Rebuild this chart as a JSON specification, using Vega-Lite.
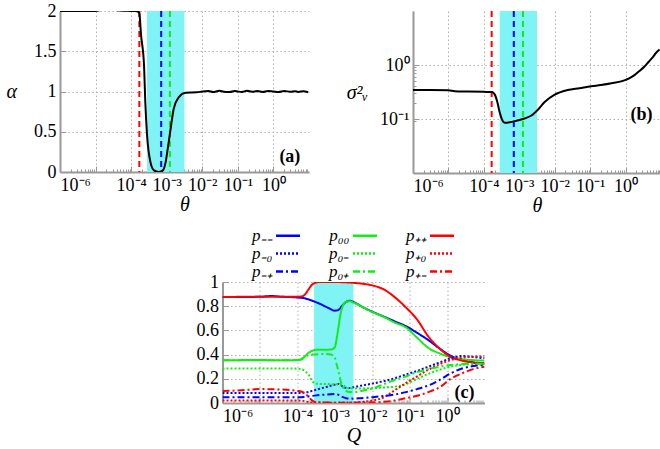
{
  "$schema": "https://vega.github.io/schema/vega-lite/v6.json",
  "padding": {"left": 6, "top": 2, "right": 2, "bottom": 0},
  "config": {
    "font": "Liberation Serif",
    "view": {"stroke": null},
    "axis": {
      "labelFont": "Liberation Serif",
      "labelFontSize": 18,
      "labelColor": "#000",
      "titleFont": "Liberation Serif",
      "titleFontSize": 20,
      "titleFontStyle": "italic",
      "titleFontWeight": "normal",
      "titleColor": "#000",
      "domainColor": "#999999",
      "domainWidth": 2,
      "gridColor": "#b0b0b0",
      "gridDash": [1.5, 2.5],
      "gridWidth": 1,
      "tickColor": "#999999",
      "tickSize": -6,
      "tickWidth": 1,
      "labelPadding": 10
    }
  },
  "resolve": {"scale": {"color": "independent", "strokeDash": "independent"}, "legend": {"color": "independent", "strokeDash": "independent"}},
  "center": true,
  "spacing": 12,
  "vconcat": [
    {
      "spacing": 37,
      "hconcat": [
        {
          "width": 249,
          "height": 161,
          "resolve": {"axis": {"x": "independent", "y": "independent"}},
          "layer": [
            {
              "data": {"values": [{"lo": 0.00028, "hi": 0.00316}]},
              "mark": {"type": "rect", "color": "#80f4f4"},
              "encoding": {
                "x": {"field": "lo", "type": "quantitative", "scale": {"type": "log", "domain": [1e-6, 10]},
                  "axis": {"orient": "bottom", "title": null, "labels": false, "grid": false, "domain": false, "tickSize": -3,
                    "values": [2e-6,3e-6,4e-6,5e-6,6e-6,7e-6,8e-6,9e-6,2e-5,3e-5,4e-5,5e-5,6e-5,7e-5,8e-5,9e-5,2e-4,3e-4,4e-4,5e-4,6e-4,7e-4,8e-4,9e-4,2e-3,3e-3,4e-3,5e-3,6e-3,7e-3,8e-3,9e-3,0.02,0.03,0.04,0.05,0.06,0.07,0.08,0.09,0.2,0.3,0.4,0.5,0.6,0.7,0.8,0.9,2,3,4,5,6,7,8,9]}},
                "x2": {"field": "hi"}
              }
            },
            {
              "data": {"values": [{"theta": 0.00017}]},
              "mark": {"type": "rule", "color": "#ff0000", "strokeDash": [6, 4], "strokeWidth": 2},
              "encoding": {"x": {"field": "theta", "type": "quantitative", "axis": null}}
            },
            {
              "data": {"values": [{"theta": 0.0007}]},
              "mark": {"type": "rule", "color": "#0000ff", "strokeDash": [6, 4], "strokeWidth": 2},
              "encoding": {"x": {"field": "theta", "type": "quantitative", "axis": null}}
            },
            {
              "data": {"values": [{"theta": 0.00123}]},
              "mark": {"type": "rule", "color": "#11ee11", "strokeDash": [6, 4], "strokeWidth": 2},
              "encoding": {"x": {"field": "theta", "type": "quantitative", "axis": null}}
            },
            {
              "data": {"values": [
                {"theta": 1e-6, "alpha": 2.0}, {"theta": 2e-6, "alpha": 2.0}, {"theta": 5e-6, "alpha": 2.0},
                {"theta": 1e-5, "alpha": 2.0}, {"theta": 1.3e-5, "alpha": 2.01}, {"theta": 1.8e-5, "alpha": 2.02},
                {"theta": 2.5e-5, "alpha": 2.02}, {"theta": 3.5e-5, "alpha": 2.015}, {"theta": 5e-5, "alpha": 2.005},
                {"theta": 7e-5, "alpha": 2.003}, {"theta": 1e-4, "alpha": 2.0}, {"theta": 1.3e-4, "alpha": 2.0},
                {"theta": 1.6e-4, "alpha": 1.99}, {"theta": 1.7e-4, "alpha": 1.97}, {"theta": 1.9e-4, "alpha": 1.7},
                {"theta": 2.3e-4, "alpha": 1.33}, {"theta": 2.5e-4, "alpha": 0.87}, {"theta": 2.8e-4, "alpha": 0.46},
                {"theta": 3.5e-4, "alpha": 0.12}, {"theta": 4.4e-4, "alpha": 0.02}, {"theta": 6e-4, "alpha": 0.0},
                {"theta": 7.8e-4, "alpha": 0.02}, {"theta": 9.3e-4, "alpha": 0.12}, {"theta": 1.07e-3, "alpha": 0.29},
                {"theta": 1.29e-3, "alpha": 0.54}, {"theta": 1.58e-3, "alpha": 0.79}, {"theta": 2.2e-3, "alpha": 0.93},
                {"theta": 3.4e-3, "alpha": 0.985}, {"theta": 7e-3, "alpha": 0.99}, {"theta": 0.01, "alpha": 1.0},
                {"theta": 0.015, "alpha": 1.006}, {"theta": 0.02, "alpha": 0.994}, {"theta": 0.03, "alpha": 1.008},
                {"theta": 0.04, "alpha": 0.998}, {"theta": 0.06, "alpha": 0.993}, {"theta": 0.08, "alpha": 1.006},
                {"theta": 0.1, "alpha": 1.0}, {"theta": 0.13, "alpha": 0.995}, {"theta": 0.18, "alpha": 1.008},
                {"theta": 0.25, "alpha": 0.997}, {"theta": 0.35, "alpha": 1.005}, {"theta": 0.5, "alpha": 0.994},
                {"theta": 0.7, "alpha": 1.007}, {"theta": 1, "alpha": 1.0}, {"theta": 1.4, "alpha": 0.994},
                {"theta": 2, "alpha": 1.006}, {"theta": 3, "alpha": 0.997}, {"theta": 4, "alpha": 1.004},
                {"theta": 5, "alpha": 0.995}, {"theta": 7, "alpha": 1.003}, {"theta": 9.5, "alpha": 0.99}
              ]},
              "mark": {"type": "line", "color": "#000", "strokeWidth": 2, "interpolate": "monotone", "clip": true},
              "encoding": {
                "x": {"field": "theta", "type": "quantitative", "title": "θ",
                  "axis": {"orient": "bottom", "grid": true, "values": [1e-6, 1e-5, 1e-4, 1e-3, 1e-2, 0.1, 1], "titlePadding": 0,
                    "labelExpr": "datum.value < 3e-6 ? '10⁻⁶' : datum.value < 3e-5 ? '10⁻⁵' : datum.value < 3e-4 ? '10⁻⁴' : datum.value < 3e-3 ? '10⁻³' : datum.value < 3e-2 ? '10⁻²' : datum.value < 0.3 ? '10⁻¹' : '10⁰'"}},
                "y": {"field": "alpha", "type": "quantitative", "title": "α", "scale": {"domain": [0, 2]},
                  "axis": {"orient": "left", "grid": true, "values": [0, 0.5, 1, 1.5, 2], "labelExpr": "format(datum.value, '~g')",
                    "titleAngle": 0, "titleAlign": "right", "titleBaseline": "middle", "titlePadding": 17}}
              }
            },
            {
              "data": {"values": [{"theta": 2.9, "alpha": 0.19, "label": "(a)"}]},
              "mark": {"type": "text", "font": "Liberation Serif", "fontWeight": "bold", "fontSize": 18, "align": "center", "baseline": "middle"},
              "encoding": {
                "x": {"field": "theta", "type": "quantitative", "axis": null},
                "y": {"field": "alpha", "type": "quantitative", "axis": null},
                "text": {"field": "label"}
              }
            }
          ]
        },
        {
          "width": 248,
          "height": 162,
          "resolve": {"axis": {"x": "independent", "y": "independent"}},
          "layer": [
            {
              "data": {"values": [{"lo": 0.00028, "hi": 0.00316}]},
              "mark": {"type": "rect", "color": "#80f4f4"},
              "encoding": {
                "x": {"field": "lo", "type": "quantitative", "scale": {"type": "log", "domain": [1e-6, 10]},
                  "axis": {"orient": "bottom", "title": null, "labels": false, "grid": false, "domain": false, "tickSize": -3,
                    "values": [2e-6,3e-6,4e-6,5e-6,6e-6,7e-6,8e-6,9e-6,2e-5,3e-5,4e-5,5e-5,6e-5,7e-5,8e-5,9e-5,2e-4,3e-4,4e-4,5e-4,6e-4,7e-4,8e-4,9e-4,2e-3,3e-3,4e-3,5e-3,6e-3,7e-3,8e-3,9e-3,0.02,0.03,0.04,0.05,0.06,0.07,0.08,0.09,0.2,0.3,0.4,0.5,0.6,0.7,0.8,0.9,2,3,4,5,6,7,8,9]}},
                "x2": {"field": "hi"}
              }
            },
            {
              "data": {"values": [{"theta": 0.000166}]},
              "mark": {"type": "rule", "color": "#ff0000", "strokeDash": [6, 4], "strokeWidth": 2},
              "encoding": {"x": {"field": "theta", "type": "quantitative", "axis": null}}
            },
            {
              "data": {"values": [{"theta": 0.0007}]},
              "mark": {"type": "rule", "color": "#0000ff", "strokeDash": [6, 4], "strokeWidth": 2},
              "encoding": {"x": {"field": "theta", "type": "quantitative", "axis": null}}
            },
            {
              "data": {"values": [{"theta": 0.00127}]},
              "mark": {"type": "rule", "color": "#11ee11", "strokeDash": [6, 4], "strokeWidth": 2},
              "encoding": {"x": {"field": "theta", "type": "quantitative", "axis": null}}
            },
            {
              "data": {"values": [
                {"theta": 1e-6, "s2": 0.343}, {"theta": 3e-6, "s2": 0.343}, {"theta": 1e-5, "s2": 0.342},
                {"theta": 1.5e-5, "s2": 0.328}, {"theta": 3.6e-5, "s2": 0.323}, {"theta": 1e-4, "s2": 0.318},
                {"theta": 1.66e-4, "s2": 0.315}, {"theta": 2.04e-4, "s2": 0.283}, {"theta": 2.4e-4, "s2": 0.206},
                {"theta": 2.8e-4, "s2": 0.132}, {"theta": 3.3e-4, "s2": 0.096}, {"theta": 3.9e-4, "s2": 0.085},
                {"theta": 5.4e-4, "s2": 0.087}, {"theta": 8.3e-4, "s2": 0.093}, {"theta": 1.41e-3, "s2": 0.102},
                {"theta": 2.2e-3, "s2": 0.116}, {"theta": 3.4e-3, "s2": 0.15}, {"theta": 5.2e-3, "s2": 0.206},
                {"theta": 0.01, "s2": 0.283}, {"theta": 0.023, "s2": 0.343}, {"theta": 0.05, "s2": 0.372},
                {"theta": 0.107, "s2": 0.404}, {"theta": 0.2, "s2": 0.425}, {"theta": 0.4, "s2": 0.458},
                {"theta": 0.93, "s2": 0.52}, {"theta": 1.26, "s2": 0.565}, {"theta": 1.78, "s2": 0.65},
                {"theta": 2.5, "s2": 0.78}, {"theta": 3.47, "s2": 0.95}, {"theta": 4.5, "s2": 1.15},
                {"theta": 5.9, "s2": 1.4}, {"theta": 7.1, "s2": 1.65}, {"theta": 9.1, "s2": 1.93}
              ]},
              "mark": {"type": "line", "color": "#000", "strokeWidth": 2, "interpolate": "monotone", "clip": true},
              "encoding": {
                "x": {"field": "theta", "type": "quantitative", "title": "θ",
                  "axis": {"orient": "bottom", "grid": true, "values": [1e-6, 1e-5, 1e-4, 1e-3, 1e-2, 0.1, 1], "titlePadding": 0,
                    "labelExpr": "datum.value < 3e-6 ? '10⁻⁶' : datum.value < 3e-5 ? '10⁻⁵' : datum.value < 3e-4 ? '10⁻⁴' : datum.value < 3e-3 ? '10⁻³' : datum.value < 3e-2 ? '10⁻²' : datum.value < 0.3 ? '10⁻¹' : '10⁰'"}},
                "y": {"field": "s2", "type": "quantitative", "title": "σ²ᵥ", "scale": {"type": "log", "domain": [0.083, 1.95]},
                  "axis": {"orient": "left", "grid": true, "values": [0.1, 1], "titleAngle": 0, "titleAlign": "right", "titleBaseline": "middle", "titlePadding": 12,
                    "labelExpr": "datum.value < 0.5 ? '10⁻¹' : '10⁰'"}}
              }
            },
            {
              "data": {"values": [{"theta": 2.8, "s2": 0.117, "label": "(b)"}]},
              "mark": {"type": "text", "font": "Liberation Serif", "fontWeight": "bold", "fontSize": 18, "align": "center", "baseline": "middle"},
              "encoding": {
                "x": {"field": "theta", "type": "quantitative", "axis": null},
                "y": {"field": "s2", "type": "quantitative",
                  "axis": {"orient": "left", "title": null, "labels": false, "grid": false, "domain": false, "tickSize": -3,
                    "values": [0.09, 0.2, 0.3, 0.4, 0.5, 0.6, 0.7, 0.8, 0.9]}},
                "text": {"field": "label"}
              }
            }
          ]
        }
      ]
    },
    {
      "width": 262,
      "height": 121,
      "resolve": {"axis": {"x": "independent", "y": "independent"}},
      "layer": [
        {
          "data": {"values": [{"lo": 0.00028, "hi": 0.00316}]},
          "mark": {"type": "rect", "color": "#80f4f4"},
          "encoding": {
            "x": {"field": "lo", "type": "quantitative", "scale": {"type": "log", "domain": [1e-6, 10]},
              "axis": {"orient": "bottom", "title": null, "labels": false, "grid": false, "domain": false, "tickSize": -3,
                "values": [2e-6,3e-6,4e-6,5e-6,6e-6,7e-6,8e-6,9e-6,2e-5,3e-5,4e-5,5e-5,6e-5,7e-5,8e-5,9e-5,2e-4,3e-4,4e-4,5e-4,6e-4,7e-4,8e-4,9e-4,2e-3,3e-3,4e-3,5e-3,6e-3,7e-3,8e-3,9e-3,0.02,0.03,0.04,0.05,0.06,0.07,0.08,0.09,0.2,0.3,0.4,0.5,0.6,0.7,0.8,0.9,2,3,4,5,6,7,8,9]}},
            "x2": {"field": "hi"}
          }
        },
        {
          "data": {"values": [
            {"Q": 1e-6, "p": 0.876, "s": "p₋₋"}, {"Q": 3.16e-6, "p": 0.876, "s": "p₋₋"}, {"Q": 1e-5, "p": 0.878, "s": "p₋₋"},
            {"Q": 2e-5, "p": 0.884, "s": "p₋₋"}, {"Q": 3.98e-5, "p": 0.878, "s": "p₋₋"}, {"Q": 1e-4, "p": 0.872, "s": "p₋₋"},
            {"Q": 1.58e-4, "p": 0.865, "s": "p₋₋"}, {"Q": 2.51e-4, "p": 0.845, "s": "p₋₋"}, {"Q": 3.98e-4, "p": 0.82, "s": "p₋₋"},
            {"Q": 6.31e-4, "p": 0.79, "s": "p₋₋"}, {"Q": 1e-3, "p": 0.763, "s": "p₋₋"}, {"Q": 1.26e-3, "p": 0.77, "s": "p₋₋"},
            {"Q": 1.58e-3, "p": 0.805, "s": "p₋₋"}, {"Q": 2e-3, "p": 0.835, "s": "p₋₋"}, {"Q": 2.51e-3, "p": 0.845, "s": "p₋₋"},
            {"Q": 3.16e-3, "p": 0.835, "s": "p₋₋"}, {"Q": 5.01e-3, "p": 0.8, "s": "p₋₋"}, {"Q": 0.01, "p": 0.755, "s": "p₋₋"},
            {"Q": 0.02, "p": 0.715, "s": "p₋₋"}, {"Q": 0.0398, "p": 0.675, "s": "p₋₋"}, {"Q": 0.0794, "p": 0.635, "s": "p₋₋"},
            {"Q": 0.158, "p": 0.58, "s": "p₋₋"}, {"Q": 0.316, "p": 0.52, "s": "p₋₋"}, {"Q": 0.631, "p": 0.45, "s": "p₋₋"},
            {"Q": 1.26, "p": 0.39, "s": "p₋₋"}, {"Q": 2.51, "p": 0.355, "s": "p₋₋"}, {"Q": 5.01, "p": 0.335, "s": "p₋₋"},
            {"Q": 10, "p": 0.32, "s": "p₋₋"},

            {"Q": 1e-6, "p": 0.353, "s": "p₀₀"}, {"Q": 1e-5, "p": 0.355, "s": "p₀₀"}, {"Q": 3.16e-5, "p": 0.353, "s": "p₀₀"},
            {"Q": 1e-4, "p": 0.355, "s": "p₀₀"}, {"Q": 1.26e-4, "p": 0.36, "s": "p₀₀"}, {"Q": 1.58e-4, "p": 0.385, "s": "p₀₀"},
            {"Q": 2e-4, "p": 0.415, "s": "p₀₀"}, {"Q": 2.51e-4, "p": 0.432, "s": "p₀₀"}, {"Q": 3.16e-4, "p": 0.44, "s": "p₀₀"},
            {"Q": 5.01e-4, "p": 0.44, "s": "p₀₀"}, {"Q": 7.94e-4, "p": 0.442, "s": "p₀₀"}, {"Q": 1e-3, "p": 0.46, "s": "p₀₀"},
            {"Q": 1.12e-3, "p": 0.53, "s": "p₀₀"}, {"Q": 1.26e-3, "p": 0.63, "s": "p₀₀"}, {"Q": 1.41e-3, "p": 0.73, "s": "p₀₀"},
            {"Q": 1.58e-3, "p": 0.79, "s": "p₀₀"}, {"Q": 2e-3, "p": 0.835, "s": "p₀₀"}, {"Q": 2.51e-3, "p": 0.842, "s": "p₀₀"},
            {"Q": 3.16e-3, "p": 0.83, "s": "p₀₀"}, {"Q": 5.01e-3, "p": 0.8, "s": "p₀₀"}, {"Q": 0.01, "p": 0.752, "s": "p₀₀"},
            {"Q": 0.02, "p": 0.713, "s": "p₀₀"}, {"Q": 0.0398, "p": 0.665, "s": "p₀₀"}, {"Q": 0.0794, "p": 0.625, "s": "p₀₀"},
            {"Q": 0.158, "p": 0.54, "s": "p₀₀"}, {"Q": 0.316, "p": 0.455, "s": "p₀₀"}, {"Q": 0.631, "p": 0.41, "s": "p₀₀"},
            {"Q": 1.26, "p": 0.378, "s": "p₀₀"}, {"Q": 2.51, "p": 0.362, "s": "p₀₀"}, {"Q": 5.01, "p": 0.354, "s": "p₀₀"},
            {"Q": 10, "p": 0.35, "s": "p₀₀"},

            {"Q": 1e-6, "p": 0.876, "s": "p₊₊"}, {"Q": 1e-5, "p": 0.878, "s": "p₊₊"}, {"Q": 1e-4, "p": 0.878, "s": "p₊₊"},
            {"Q": 1.26e-4, "p": 0.88, "s": "p₊₊"}, {"Q": 1.58e-4, "p": 0.895, "s": "p₊₊"}, {"Q": 2e-4, "p": 0.94, "s": "p₊₊"},
            {"Q": 2.51e-4, "p": 0.98, "s": "p₊₊"}, {"Q": 3.16e-4, "p": 0.995, "s": "p₊₊"}, {"Q": 3.98e-4, "p": 1.0, "s": "p₊₊"},
            {"Q": 1e-3, "p": 1.0, "s": "p₊₊"}, {"Q": 2e-3, "p": 0.997, "s": "p₊₊"}, {"Q": 3.16e-3, "p": 0.993, "s": "p₊₊"},
            {"Q": 5.01e-3, "p": 0.987, "s": "p₊₊"}, {"Q": 0.01, "p": 0.972, "s": "p₊₊"}, {"Q": 0.02, "p": 0.94, "s": "p₊₊"},
            {"Q": 0.0398, "p": 0.875, "s": "p₊₊"}, {"Q": 0.0794, "p": 0.79, "s": "p₊₊"}, {"Q": 0.158, "p": 0.69, "s": "p₊₊"},
            {"Q": 0.316, "p": 0.55, "s": "p₊₊"}, {"Q": 0.631, "p": 0.45, "s": "p₊₊"}, {"Q": 1.26, "p": 0.38, "s": "p₊₊"},
            {"Q": 2.51, "p": 0.35, "s": "p₊₊"}, {"Q": 5.01, "p": 0.335, "s": "p₊₊"}, {"Q": 10, "p": 0.33, "s": "p₊₊"},

            {"Q": 1e-6, "p": 0.083, "s": "p₋₀"}, {"Q": 1e-5, "p": 0.083, "s": "p₋₀"}, {"Q": 1e-4, "p": 0.083, "s": "p₋₀"},
            {"Q": 1.58e-4, "p": 0.086, "s": "p₋₀"}, {"Q": 2.51e-4, "p": 0.1, "s": "p₋₀"}, {"Q": 3.98e-4, "p": 0.118, "s": "p₋₀"},
            {"Q": 6.31e-4, "p": 0.135, "s": "p₋₀"}, {"Q": 1e-3, "p": 0.152, "s": "p₋₀"}, {"Q": 1.26e-3, "p": 0.158, "s": "p₋₀"},
            {"Q": 1.58e-3, "p": 0.14, "s": "p₋₀"}, {"Q": 2e-3, "p": 0.125, "s": "p₋₀"}, {"Q": 2.51e-3, "p": 0.124, "s": "p₋₀"},
            {"Q": 3.16e-3, "p": 0.13, "s": "p₋₀"}, {"Q": 5.01e-3, "p": 0.143, "s": "p₋₀"}, {"Q": 0.01, "p": 0.16, "s": "p₋₀"},
            {"Q": 0.02, "p": 0.18, "s": "p₋₀"}, {"Q": 0.0398, "p": 0.205, "s": "p₋₀"}, {"Q": 0.0794, "p": 0.235, "s": "p₋₀"},
            {"Q": 0.158, "p": 0.265, "s": "p₋₀"}, {"Q": 0.316, "p": 0.3, "s": "p₋₀"}, {"Q": 0.631, "p": 0.335, "s": "p₋₀"},
            {"Q": 1.26, "p": 0.37, "s": "p₋₀"}, {"Q": 2.51, "p": 0.388, "s": "p₋₀"}, {"Q": 5.01, "p": 0.38, "s": "p₋₀"},
            {"Q": 10, "p": 0.37, "s": "p₋₀"},

            {"Q": 1e-6, "p": 0.284, "s": "p₀₋"}, {"Q": 1e-5, "p": 0.285, "s": "p₀₋"}, {"Q": 1e-4, "p": 0.284, "s": "p₀₋"},
            {"Q": 1.26e-4, "p": 0.28, "s": "p₀₋"}, {"Q": 1.58e-4, "p": 0.265, "s": "p₀₋"}, {"Q": 2e-4, "p": 0.234, "s": "p₀₋"},
            {"Q": 2.51e-4, "p": 0.18, "s": "p₀₋"}, {"Q": 3.16e-4, "p": 0.16, "s": "p₀₋"}, {"Q": 5.01e-4, "p": 0.157, "s": "p₀₋"},
            {"Q": 1e-3, "p": 0.155, "s": "p₀₋"}, {"Q": 1.58e-3, "p": 0.15, "s": "p₀₋"}, {"Q": 2e-3, "p": 0.13, "s": "p₀₋"},
            {"Q": 2.51e-3, "p": 0.122, "s": "p₀₋"}, {"Q": 5.01e-3, "p": 0.12, "s": "p₀₋"}, {"Q": 0.01, "p": 0.122, "s": "p₀₋"},
            {"Q": 0.02, "p": 0.128, "s": "p₀₋"}, {"Q": 0.0398, "p": 0.135, "s": "p₀₋"}, {"Q": 0.0794, "p": 0.155, "s": "p₀₋"},
            {"Q": 0.158, "p": 0.2, "s": "p₀₋"}, {"Q": 0.316, "p": 0.24, "s": "p₀₋"}, {"Q": 0.631, "p": 0.275, "s": "p₀₋"},
            {"Q": 1.26, "p": 0.3, "s": "p₀₋"}, {"Q": 2.51, "p": 0.315, "s": "p₀₋"}, {"Q": 5.01, "p": 0.32, "s": "p₀₋"},
            {"Q": 10, "p": 0.32, "s": "p₀₋"},

            {"Q": 1e-6, "p": 0.02, "s": "p₊₀"}, {"Q": 1e-4, "p": 0.02, "s": "p₊₀"}, {"Q": 1.58e-4, "p": 0.015, "s": "p₊₀"},
            {"Q": 2e-4, "p": 0.008, "s": "p₊₀"}, {"Q": 2.51e-4, "p": 0.004, "s": "p₊₀"}, {"Q": 1e-3, "p": 0.003, "s": "p₊₀"},
            {"Q": 3.16e-3, "p": 0.005, "s": "p₊₀"}, {"Q": 5.01e-3, "p": 0.008, "s": "p₊₀"}, {"Q": 0.01, "p": 0.02, "s": "p₊₀"},
            {"Q": 0.02, "p": 0.045, "s": "p₊₀"}, {"Q": 0.0398, "p": 0.105, "s": "p₊₀"}, {"Q": 0.0794, "p": 0.165, "s": "p₊₀"},
            {"Q": 0.158, "p": 0.22, "s": "p₊₀"}, {"Q": 0.316, "p": 0.275, "s": "p₊₀"}, {"Q": 0.631, "p": 0.32, "s": "p₊₀"},
            {"Q": 1.26, "p": 0.355, "s": "p₊₀"}, {"Q": 2.51, "p": 0.375, "s": "p₊₀"}, {"Q": 5.01, "p": 0.383, "s": "p₊₀"},
            {"Q": 10, "p": 0.385, "s": "p₊₀"},

            {"Q": 1e-6, "p": 0.047, "s": "p₋₊"}, {"Q": 1e-5, "p": 0.047, "s": "p₋₊"}, {"Q": 1e-4, "p": 0.047, "s": "p₋₊"},
            {"Q": 1.58e-4, "p": 0.05, "s": "p₋₊"}, {"Q": 3.16e-4, "p": 0.063, "s": "p₋₊"}, {"Q": 5.01e-4, "p": 0.068, "s": "p₋₊"},
            {"Q": 1e-3, "p": 0.074, "s": "p₋₊"}, {"Q": 1.26e-3, "p": 0.068, "s": "p₋₊"}, {"Q": 1.58e-3, "p": 0.05, "s": "p₋₊"},
            {"Q": 2e-3, "p": 0.04, "s": "p₋₊"}, {"Q": 3.16e-3, "p": 0.036, "s": "p₋₊"}, {"Q": 5.01e-3, "p": 0.04, "s": "p₋₊"},
            {"Q": 0.01, "p": 0.048, "s": "p₋₊"}, {"Q": 0.02, "p": 0.058, "s": "p₋₊"}, {"Q": 0.0398, "p": 0.07, "s": "p₋₊"},
            {"Q": 0.0794, "p": 0.09, "s": "p₋₊"}, {"Q": 0.158, "p": 0.115, "s": "p₋₊"}, {"Q": 0.316, "p": 0.145, "s": "p₋₊"},
            {"Q": 0.631, "p": 0.19, "s": "p₋₊"}, {"Q": 1.26, "p": 0.245, "s": "p₋₊"}, {"Q": 2.51, "p": 0.285, "s": "p₋₊"},
            {"Q": 5.01, "p": 0.305, "s": "p₋₊"}, {"Q": 10, "p": 0.315, "s": "p₋₊"},

            {"Q": 1e-6, "p": 0.353, "s": "p₀₊"}, {"Q": 1e-5, "p": 0.353, "s": "p₀₊"}, {"Q": 1e-4, "p": 0.353, "s": "p₀₊"},
            {"Q": 1.26e-4, "p": 0.36, "s": "p₀₊"}, {"Q": 1.58e-4, "p": 0.38, "s": "p₀₊"}, {"Q": 2e-4, "p": 0.395, "s": "p₀₊"},
            {"Q": 2.51e-4, "p": 0.4, "s": "p₀₊"}, {"Q": 5.01e-4, "p": 0.405, "s": "p₀₊"}, {"Q": 7.94e-4, "p": 0.4, "s": "p₀₊"},
            {"Q": 1e-3, "p": 0.375, "s": "p₀₊"}, {"Q": 1.12e-3, "p": 0.32, "s": "p₀₊"}, {"Q": 1.26e-3, "p": 0.26, "s": "p₀₊"},
            {"Q": 1.41e-3, "p": 0.19, "s": "p₀₊"}, {"Q": 1.58e-3, "p": 0.14, "s": "p₀₊"}, {"Q": 2e-3, "p": 0.1, "s": "p₀₊"},
            {"Q": 2.51e-3, "p": 0.09, "s": "p₀₊"}, {"Q": 3.16e-3, "p": 0.09, "s": "p₀₊"}, {"Q": 5.01e-3, "p": 0.1, "s": "p₀₊"},
            {"Q": 0.01, "p": 0.12, "s": "p₀₊"}, {"Q": 0.02, "p": 0.155, "s": "p₀₊"}, {"Q": 0.0398, "p": 0.19, "s": "p₀₊"},
            {"Q": 0.0794, "p": 0.22, "s": "p₀₊"}, {"Q": 0.158, "p": 0.255, "s": "p₀₊"}, {"Q": 0.316, "p": 0.28, "s": "p₀₊"},
            {"Q": 0.631, "p": 0.3, "s": "p₀₊"}, {"Q": 1.26, "p": 0.315, "s": "p₀₊"}, {"Q": 2.51, "p": 0.322, "s": "p₀₊"},
            {"Q": 5.01, "p": 0.325, "s": "p₀₊"}, {"Q": 10, "p": 0.325, "s": "p₀₊"},

            {"Q": 1e-6, "p": 0.1, "s": "p₊₋"}, {"Q": 3.16e-6, "p": 0.105, "s": "p₊₋"}, {"Q": 1e-5, "p": 0.115, "s": "p₊₋"},
            {"Q": 3.16e-5, "p": 0.112, "s": "p₊₋"}, {"Q": 1e-4, "p": 0.1, "s": "p₊₋"}, {"Q": 1.26e-4, "p": 0.095, "s": "p₊₋"},
            {"Q": 1.58e-4, "p": 0.08, "s": "p₊₋"}, {"Q": 2e-4, "p": 0.05, "s": "p₊₋"}, {"Q": 2.51e-4, "p": 0.02, "s": "p₊₋"},
            {"Q": 3.16e-4, "p": 0.006, "s": "p₊₋"}, {"Q": 1e-3, "p": 0.003, "s": "p₊₋"}, {"Q": 3.16e-3, "p": 0.003, "s": "p₊₋"},
            {"Q": 0.01, "p": 0.005, "s": "p₊₋"}, {"Q": 0.02, "p": 0.01, "s": "p₊₋"}, {"Q": 0.0398, "p": 0.02, "s": "p₊₋"},
            {"Q": 0.0794, "p": 0.04, "s": "p₊₋"}, {"Q": 0.158, "p": 0.06, "s": "p₊₋"}, {"Q": 0.316, "p": 0.09, "s": "p₊₋"},
            {"Q": 0.631, "p": 0.13, "s": "p₊₋"}, {"Q": 1.26, "p": 0.2, "s": "p₊₋"}, {"Q": 2.51, "p": 0.245, "s": "p₊₋"},
            {"Q": 5.01, "p": 0.28, "s": "p₊₋"}, {"Q": 10, "p": 0.3, "s": "p₊₋"}
          ]},
          "mark": {"type": "line", "strokeWidth": 2, "interpolate": "monotone", "clip": true},
          "encoding": {
            "x": {"field": "Q", "type": "quantitative", "title": "Q",
              "axis": {"orient": "bottom", "grid": true, "values": [1e-6, 1e-5, 1e-4, 1e-3, 1e-2, 0.1, 1], "titlePadding": 0,
                "labelExpr": "datum.value < 3e-6 ? '10⁻⁶' : datum.value < 3e-5 ? '10⁻⁵' : datum.value < 3e-4 ? '10⁻⁴' : datum.value < 3e-3 ? '10⁻³' : datum.value < 3e-2 ? '10⁻²' : datum.value < 0.3 ? '10⁻¹' : '10⁰'"}},
            "y": {"field": "p", "type": "quantitative", "title": null, "scale": {"domain": [0, 1]},
              "axis": {"orient": "left", "grid": true, "values": [0, 0.2, 0.4, 0.6, 0.8, 1], "labelExpr": "format(datum.value, '~g')"}},
            "color": {"field": "s", "type": "nominal",
              "scale": {"domain": ["p₋₋", "p₀₀", "p₊₊", "p₋₀", "p₀₋", "p₊₀", "p₋₊", "p₀₊", "p₊₋"],
                "range": ["#0000ff", "#11ee11", "#ff0000", "#0000ff", "#11ee11", "#ff0000", "#0000ff", "#11ee11", "#ff0000"]},
              "legend": {"title": null, "orient": "none", "direction": "horizontal", "legendX": 57, "legendY": -55, "columns": 3, "columnPadding": 23, "rowPadding": 0,
                "symbolType": "M-6,0H6", "symbolSize": 16, "symbolStrokeWidth": 2.5,
                "labelFont": "Liberation Serif", "labelFontStyle": "italic", "labelFontSize": 17, "labelAlign": "right", "labelOffset": -24}},
            "strokeDash": {"field": "s", "type": "nominal",
              "scale": {"domain": ["p₋₋", "p₀₀", "p₊₊", "p₋₀", "p₀₋", "p₊₀", "p₋₊", "p₀₊", "p₊₋"],
                "range": [[1, 0], [1, 0], [1, 0], [2, 2], [2, 2], [2, 2], [7, 3, 2, 3], [7, 3, 2, 3], [7, 3, 2, 3]]},
              "legend": {"title": null, "orient": "none", "direction": "horizontal", "legendX": 57, "legendY": -55, "columns": 3, "columnPadding": 23, "rowPadding": 0,
                "symbolType": "M-6,0H6", "symbolSize": 16, "symbolStrokeWidth": 2.5,
                "labelFont": "Liberation Serif", "labelFontStyle": "italic", "labelFontSize": 17, "labelAlign": "right", "labelOffset": -24}}
          }
        },
        {
          "data": {"values": [{"Q": 2.9, "p": 0.085, "label": "(c)"}]},
          "mark": {"type": "text", "font": "Liberation Serif", "fontWeight": "bold", "fontSize": 18, "align": "center", "baseline": "middle"},
          "encoding": {
            "x": {"field": "Q", "type": "quantitative", "axis": null},
            "y": {"field": "p", "type": "quantitative",
              "axis": {"orient": "right", "title": " ", "titleFontSize": 14, "titlePadding": 0, "labels": false, "ticks": false, "domain": false, "grid": false}},
            "text": {"field": "label"}
          }
        }
      ]
    }
  ]
}
